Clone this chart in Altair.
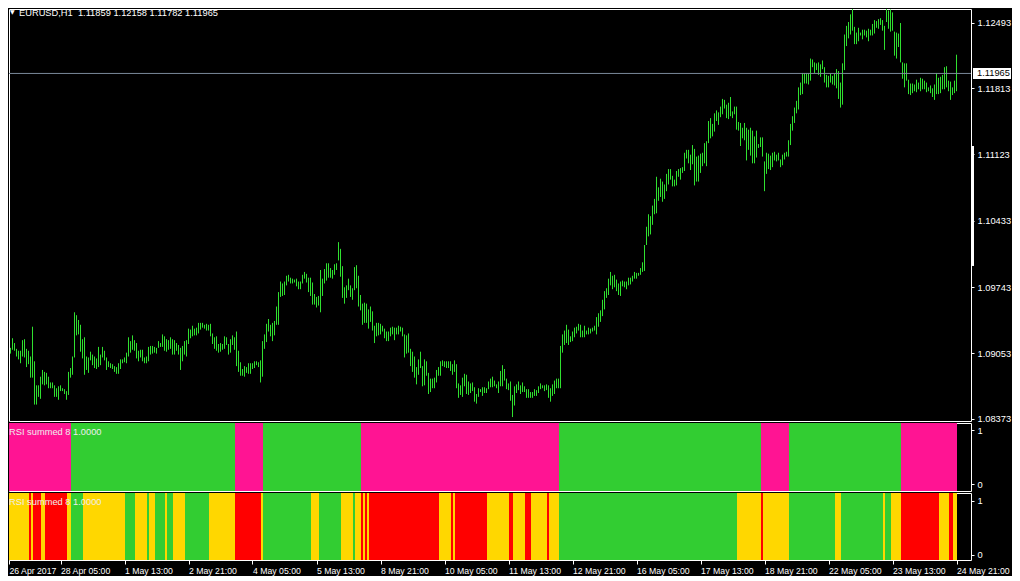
import altair as alt
import pandas as pd

# ---------------- data (prices in 1/10000 units, one H1 bar each) ----------------
high = [
10913,10911,10910,10906,10909,10911,10916,10911,10921,10916,
10910,10908,10908,10919,10920,10910,10908,10902,10933,10897,
10872,10872,10881,10888,10886,10885,10881,10875,10875,10872,
10869,10871,10872,10869,10868,10866,10886,10890,10902,10948,
10945,10940,10935,10920,10922,10902,10901,10907,10904,10902,
10900,10912,10904,10912,10908,10901,10897,10895,10894,10892,
10891,10895,10899,10899,10901,10906,10922,10918,10924,10919,
10916,10908,10909,10909,10901,10902,10912,10913,10913,10912,
10911,10918,10916,10925,10923,10920,10919,10922,10920,10919,
10916,10914,10911,10913,10918,10919,10931,10930,10934,10931,
10932,10937,10937,10937,10935,10936,10935,10936,10926,10922,
10923,10915,10916,10915,10923,10922,10915,10920,10924,10922,
10928,10908,10896,10889,10892,10891,10895,10895,10895,10897,
10897,10896,10898,10918,10925,10936,10941,10935,10937,10939,
10954,10969,10980,10978,10980,10986,10987,10984,10983,10982,
10983,10980,10980,10987,10990,10988,10984,10984,10979,10967,
10964,10965,10992,10983,10993,10999,10999,10994,10992,10998,
10999,11021,11014,10996,10974,10976,10983,10976,10973,10995,
10997,10986,10966,10957,10958,10957,10951,10954,10949,10934,
10937,10937,10936,10934,10931,10928,10928,10932,10933,10932,
10932,10934,10933,10932,10925,10924,10926,10910,10907,10902,
10891,10899,10907,10892,10899,10897,10885,10879,10879,10880,
10888,10891,10897,10898,10897,10897,10897,10897,10894,10898,
10894,10874,10872,10880,10884,10883,10876,10874,10875,10870,
10863,10869,10868,10870,10870,10869,10876,10879,10881,10877,
10873,10876,10887,10893,10889,10879,10874,10876,10862,10871,
10873,10876,10872,10875,10871,10868,10868,10865,10865,10868,
10867,10871,10874,10872,10872,10873,10872,10869,10873,10877,
10879,10879,10913,10925,10929,10935,10930,10923,10928,10932,
10933,10936,10935,10929,10934,10929,10932,10931,10932,10934,
10943,10947,10950,10961,10970,10973,10983,10990,10986,10987,
10982,10978,10980,10981,10980,10980,10984,10984,10986,10990,
10989,10989,10994,11000,11018,11037,11050,11048,11059,11066,
11089,11078,11087,11084,11081,11092,11097,11097,11090,11086,
11095,11097,11098,11099,11114,11117,11117,11112,11122,11118,
11110,11111,11113,11114,11124,11126,11147,11150,11144,11155,
11158,11156,11162,11170,11169,11164,11166,11172,11157,11162,
11162,11146,11145,11140,11145,11140,11138,11140,11137,11131,
11137,11123,11130,11130,11105,11114,11113,11111,11114,11115,
11112,11114,11107,11112,11114,11115,11127,11144,11152,11161,
11168,11182,11187,11197,11197,11197,11197,11212,11211,11208,
11207,11208,11206,11210,11203,11195,11194,11196,11194,11196,
11201,11199,11187,11207,11237,11246,11250,11258,11264,11245,
11239,11244,11239,11242,11242,11241,11243,11242,11248,11252,
11251,11253,11254,11252,11246,11268,11262,11263,11260,11240,
11239,11238,11249,11208,11207,11207,11190,11186,11186,11185,
11190,11187,11192,11191,11189,11187,11182,11184,11181,11185,
11197,11192,11193,11195,11203,11204,11189,11188,11182,11189,
11216]

low = [
10888,10892,10901,10900,10900,10906,10904,10905,10909,10908,
10902,10899,10895,10902,10901,10891,10894,10880,10880,10852,
10852,10860,10858,10873,10872,10873,10869,10869,10869,10860,
10860,10857,10866,10866,10863,10857,10862,10880,10883,10901,
10924,10925,10907,10900,10883,10888,10885,10898,10893,10890,
10889,10891,10893,10901,10898,10888,10891,10890,10889,10886,
10884,10884,10889,10895,10896,10895,10902,10906,10909,10908,
10900,10897,10901,10897,10895,10895,10897,10904,10905,10906,
10905,10911,10912,10912,10908,10907,10909,10910,10904,10904,
10908,10904,10888,10897,10904,10902,10915,10921,10923,10924,
10924,10926,10930,10932,10931,10929,10929,10923,10915,10910,
10908,10906,10907,10909,10910,10914,10904,10906,10914,10909,
10892,10886,10882,10882,10881,10885,10884,10884,10889,10890,
10893,10891,10875,10881,10910,10917,10928,10923,10918,10924,
10935,10935,10964,10965,10966,10976,10980,10978,10978,10979,
10975,10972,10972,10978,10983,10979,10969,10965,10956,10956,
10953,10955,10948,10965,10978,10981,10984,10984,10983,10987,
10992,11002,10985,10963,10957,10963,10971,10964,10961,10971,
10973,10954,10950,10935,10937,10937,10931,10938,10929,10916,
10923,10924,10925,10928,10921,10918,10918,10923,10925,10919,
10925,10925,10928,10923,10901,10905,10906,10892,10886,10880,
10873,10883,10890,10871,10872,10882,10863,10865,10869,10869,
10875,10882,10882,10892,10891,10890,10890,10887,10883,10886,
10869,10859,10862,10860,10871,10863,10862,10864,10866,10855,
10853,10860,10865,10861,10864,10864,10868,10870,10870,10871,
10869,10864,10871,10871,10877,10868,10867,10856,10839,10851,
10864,10867,10863,10865,10865,10859,10859,10859,10859,10861,
10861,10864,10868,10869,10866,10867,10859,10855,10861,10863,
10869,10869,10869,10906,10914,10916,10914,10917,10918,10922,
10926,10929,10922,10922,10922,10925,10925,10926,10928,10929,
10925,10933,10938,10944,10951,10963,10966,10976,10972,10974,
10970,10966,10965,10975,10974,10972,10976,10977,10980,10983,
10983,10986,10987,10990,10991,11018,11027,11029,11039,11050,
11051,11064,11068,11063,11066,11074,11081,11086,11079,11079,
11080,11089,11086,11093,11095,11108,11103,11096,11102,11080,
11084,11084,11093,11100,11103,11100,11124,11129,11131,11136,
11147,11143,11151,11154,11160,11150,11149,11152,11150,11154,
11138,11137,11121,11129,11127,11106,11117,11111,11103,11103,
11109,11119,11120,11110,11074,11092,11097,11096,11099,11106,
11105,11106,11099,11101,11107,11110,11110,11122,11137,11145,
11155,11159,11174,11175,11186,11186,11185,11189,11203,11197,
11200,11195,11193,11201,11187,11182,11182,11187,11185,11184,
11181,11170,11161,11164,11200,11225,11233,11237,11241,11227,
11227,11230,11236,11232,11236,11234,11230,11236,11236,11238,
11244,11243,11247,11241,11221,11250,11243,11240,11241,11215,
11212,11224,11208,11191,11182,11189,11175,11174,11176,11178,
11177,11180,11178,11180,11180,11177,11178,11176,11172,11169,
11175,11175,11176,11180,11180,11182,11178,11169,11174,11176,
11178]

time_labels = ["26 Apr 2017", "28 Apr 05:00", "1 May 13:00", "2 May 21:00",
               "4 May 05:00", "5 May 13:00", "8 May 21:00", "10 May 05:00",
               "11 May 13:00", "12 May 21:00", "16 May 05:00", "17 May 13:00",
               "18 May 21:00", "22 May 05:00", "23 May 13:00", "24 May 21:00"]

price_ticks = [1.08373, 1.08713, 1.09053, 1.09403, 1.09743, 1.10093, 1.10433,
               1.10773, 1.11123, 1.11463, 1.11813, 1.12153, 1.12493]

# indicator states, run-length encoded (state, number of bars)
rsi1_runs = [("M", 38), ("G", 82), ("M", 14), ("G", 49), ("M", 99),
             ("G", 101), ("M", 14), ("G", 56), ("M", 28)]
rsi2_runs = [("Y", 17), ("R", 1), ("Y", 1), ("R", 4), ("Y", 2), ("R", 11), ("Y", 2),
             ("G", 6), ("Y", 21), ("G", 5), ("Y", 6), ("G", 1), ("Y", 3), ("G", 5),
             ("Y", 1), ("G", 3), ("Y", 6), ("G", 12), ("Y", 13), ("R", 13), ("Y", 1),
             ("G", 24), ("Y", 4), ("G", 11), ("Y", 6), ("G", 1), ("Y", 3), ("R", 1),
             ("Y", 1), ("R", 1), ("Y", 1), ("R", 35), ("Y", 6), ("R", 1), ("Y", 1),
             ("R", 16), ("Y", 11), ("R", 2), ("Y", 6), ("R", 3), ("Y", 8), ("R", 1),
             ("Y", 5), ("G", 89), ("Y", 12), ("R", 1), ("Y", 13), ("G", 23), ("Y", 3),
             ("G", 21), ("Y", 1), ("G", 3), ("Y", 5), ("R", 19), ("Y", 5), ("R", 2),
             ("Y", 2)]

state_names = ["M", "G", "R", "Y"]
state_colors = ["#FF1493", "#32CD32", "#FF0000", "#FFD700"]

header_text = "EURUSD,H1 \u00a01.11859 1.12158 1.11782 1.11965"
indicator_name = "RSI summed 8 1.0000"
last_price = 1.11965

# ---------------- tables ----------------
n = len(high)
df = pd.DataFrame({
    "i": list(range(n)),
    "high": [h / 10000 for h in high],
    "low": [l / 10000 for l in low],
})

def run_table(runs):
    rows, start = [], 0
    for s, k in runs:
        rows.append({"s": s, "x0": start - 0.75, "x1": start + k - 1 + 0.25})
        start += k
    return pd.DataFrame(rows)

# ---------------- style ----------------
FONT = "Liberation Sans"
FS = 9.3
BAR = "#2FE02F"
W = 962
xscale = alt.Scale(domain=[6.25, 6.25 + W / 2], nice=False, zero=False)
pscale = alt.Scale(domain=[1.08349, 1.126355], nice=False, zero=False)
cscale = alt.Scale(domain=state_names, range=state_colors)

def raxis(values, fmt):
    return alt.Axis(orient="right", values=values, format=fmt, title=None,
                    grid=False, domain=False, ticks=True, tickSize=3,
                    tickColor="white", labelColor="white", labelFont=FONT,
                    labelFontSize=FS, labelPadding=3, labelOverlap=False)

# ---------------- main price panel ----------------
bars = alt.Chart(df).mark_rule(color=BAR, strokeWidth=1, clip=True).encode(
    x=alt.X("i:Q", scale=xscale, axis=None),
    y=alt.Y("low:Q", scale=pscale, axis=raxis(price_ticks, ".5f")),
    y2="high:Q",
)
hline = alt.Chart(pd.DataFrame({"p": [last_price]})).mark_rule(
    color="#7A8899", strokeWidth=1).encode(y=alt.Y("p:Q", scale=pscale))
scroll = alt.Chart(pd.DataFrame({"a": [1.11210], "b": [1.09962]})).mark_rule(
    color="white", strokeWidth=3).encode(
    x=alt.value(W + 1.5), y=alt.Y("a:Q", scale=pscale), y2="b:Q")
box = alt.Chart(pd.DataFrame({"a": [1.12022], "b": [1.11907]})).mark_rect(
    color="white").encode(
    x=alt.value(W + 2), x2=alt.value(W + 40),
    y=alt.Y("a:Q", scale=pscale), y2="b:Q")
box_txt = alt.Chart(pd.DataFrame({"p": [last_price], "t": ["%.5f" % last_price]})).mark_text(
    align="left", baseline="middle", color="black", font=FONT, fontSize=FS).encode(
    x=alt.value(W + 6), y=alt.Y("p:Q", scale=pscale), text="t:N")
tri = alt.Chart(pd.DataFrame({"t": ["\u25bc"]})).mark_text(
    align="left", baseline="middle", color="white", font="DejaVu Sans", fontSize=6).encode(
    x=alt.value(1), y=alt.value(3), text="t:N")
head = alt.Chart(pd.DataFrame({"t": [header_text]})).mark_text(
    align="left", baseline="top", color="white", font=FONT, fontSize=FS).encode(
    x=alt.value(10), y=alt.value(0), text="t:N")

main = alt.layer(bars, hline, scroll, box, box_txt, tri, head).properties(
    width=W, height=412)

# ---------------- indicator panels ----------------
def panel(runs, dom, h, xaxis):
    rects = alt.Chart(run_table(runs)).mark_rect(clip=True).encode(
        x=alt.X("x0:Q", scale=xscale, axis=xaxis),
        x2="x1:Q",
        y=alt.Y(datum=dom[0], type="quantitative",
                scale=alt.Scale(domain=dom, nice=False, zero=False),
                axis=raxis([0, 1], "d")),
        y2=alt.Y2(datum=dom[1]),
        color=alt.Color("s:N", scale=cscale, legend=None),
    )
    txt = alt.Chart(pd.DataFrame({"t": [indicator_name]})).mark_text(
        align="left", baseline="top", color="#EEEEEE", font=FONT, fontSize=FS).encode(
        x=alt.value(0), y=alt.value(5), text="t:N")
    return alt.layer(rects, txt).properties(width=W, height=h)

expr = "[" + ",".join("'%s'" % t for t in time_labels) + "][round(datum.value/32)]"
time_axis = alt.Axis(orient="bottom", values=[6.25] + [32 * k for k in range(1, 16)],
                     labelExpr=expr, title=None, grid=False, domain=False,
                     ticks=True, tickSize=4, tickColor="white", labelColor="white",
                     labelFont=FONT, labelFontSize=8.7, labelAlign="left",
                     labelBaseline="top", labelPadding=2, labelFlush=False,
                     labelOverlap=False, labelBound=False)

p1 = panel(rsi1_runs, [-0.124, 1.135], 68, None)
p2 = panel(rsi2_runs, [-0.098, 1.143], 67, time_axis)

chart = alt.vconcat(main, p1, p2, spacing=2, bounds="flush").properties(
    padding=0, background="black"
).configure_view(stroke="white", strokeWidth=1, fill="black")

chart.save("out.html", embed_options={"renderer": "svg", "actions": False})
